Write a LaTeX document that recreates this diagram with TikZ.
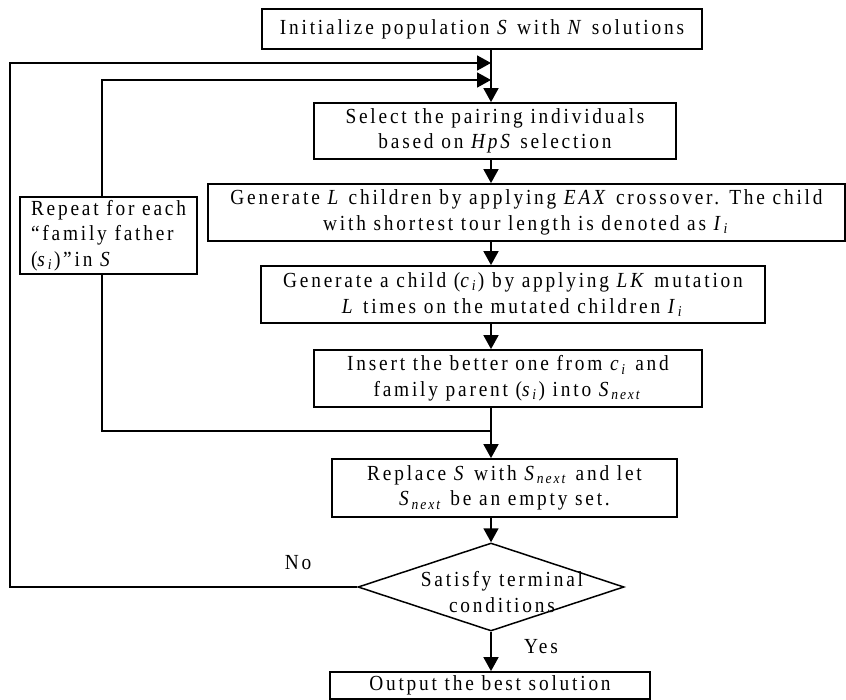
\documentclass[tikz,border=0pt]{standalone}
\usepackage{fontspec}
\setmainfont{Liberation Serif}[LetterSpace=13, FakeStretch=0.9]
\usetikzlibrary{shapes.geometric, arrows.meta, positioning, calc}
\newcommand{\flowfont}{\fontsize{21.5}{25.5}\selectfont}
\newcommand{\vr}[1]{\textit{#1}}
\newcommand{\vsub}[2]{\textit{#1}\textsubscript{\textit{#2}}}
\tikzstyle{stepbox} = [rectangle, draw, line width=1.8pt, align=center, inner sep=0pt, font=\flowfont]
\tikzstyle{decision} = [diamond, draw, line width=1.5pt, inner sep=0pt, minimum width=266pt, minimum height=88pt]
\tikzstyle{tag} = [inner sep=0pt, font=\flowfont]
\tikzstyle{arrow} = [draw, line width=1.8pt, -{Triangle[length=14pt, width=15pt]}]
\tikzstyle{line} = [draw, line width=1.8pt]

\begin{document}
\begin{tikzpicture}[x=1pt, y=-1pt]
    \useasboundingbox (0,0) rectangle (846,700);
    \node (init) [stepbox, minimum width=440pt, minimum height=40pt] at (482,29) {Initialize population \vr{S} with \vr{N} solutions};
    \node (select) [stepbox, minimum width=362pt, minimum height=56pt] at (495,131) {Select the pairing individuals\\based on \vr{HpS} selection};
    \node (genl) [stepbox, minimum width=637pt, minimum height=57pt] at (526.5,212.5) {Generate \vr{L} children by applying \vr{EAX} crossover. The child\\with shortest tour length is denoted as \vsub{I}{i}};
    \node (repeat) [stepbox, align=left, minimum width=177pt, minimum height=77pt] at (108.5,235.5) {Repeat for each\\“family father\\(\vsub{s}{i})”in \vr{S}};
    \node (genc) [stepbox, minimum width=504pt, minimum height=57pt] at (513,294.5) {Generate a child (\vsub{c}{i}) by applying \vr{LK} mutation\\\vr{L} times on the mutated children \vsub{I}{i}};
    \node (insert) [stepbox, minimum width=388pt, minimum height=57pt] at (508,378.5) {Insert the better one from \vsub{c}{i} and\\family parent (\vsub{s}{i}) into \vsub{S}{next}};
    \node (replace) [stepbox, minimum width=345pt, minimum height=58pt] at (504.5,488) {Replace \vr{S} with \vsub{S}{next} and let\\\vsub{S}{next} be an empty set.};
    \node (check) [decision] at (491,587) {};
    \node (checktext) [tag, align=center] at (502,592) {Satisfy terminal\\conditions};
    \node (output) [stepbox, minimum width=320pt, minimum height=27pt] at (490,685.5) {Output the best solution};

    % Branch labels
    \node (no) [tag] at (298,563) {No};
    \node (yes) [tag] at (541,647) {Yes};

    % Helper points for the loops
    \coordinate (spine) at (491,0);
    \coordinate (loopout) at (491,63);
    \coordinate (loopin) at (491,80);
    \coordinate (outerleft) at (10,63);
    \coordinate (join) at (491,431);
    \coordinate (innerleft) at (102,431);

    \draw [arrow] (init.south -| spine) -- (select.north -| spine);
    \draw [arrow] (select.south -| spine) -- (genl.north -| spine);
    \draw [arrow] (genl.south -| spine) -- (genc.north -| spine);
    \draw [arrow] (genc.south -| spine) -- (insert.north -| spine);
    \draw [arrow] (insert.south -| spine) -- (replace.north -| spine);
    \draw [arrow] (replace.south -| spine) -- (check.north);
    \draw [arrow] (check.south) -- (output.north -| spine);

    % Inner loop through the repeat box
    \draw [line] (join) -- (innerleft) -- (innerleft |- repeat.south);
    \draw [arrow] (innerleft |- repeat.north) |- (loopin);

    % Outer loop on No
    \draw [arrow] (check.west) -| (outerleft) -- (loopout);
\end{tikzpicture}
\end{document}
